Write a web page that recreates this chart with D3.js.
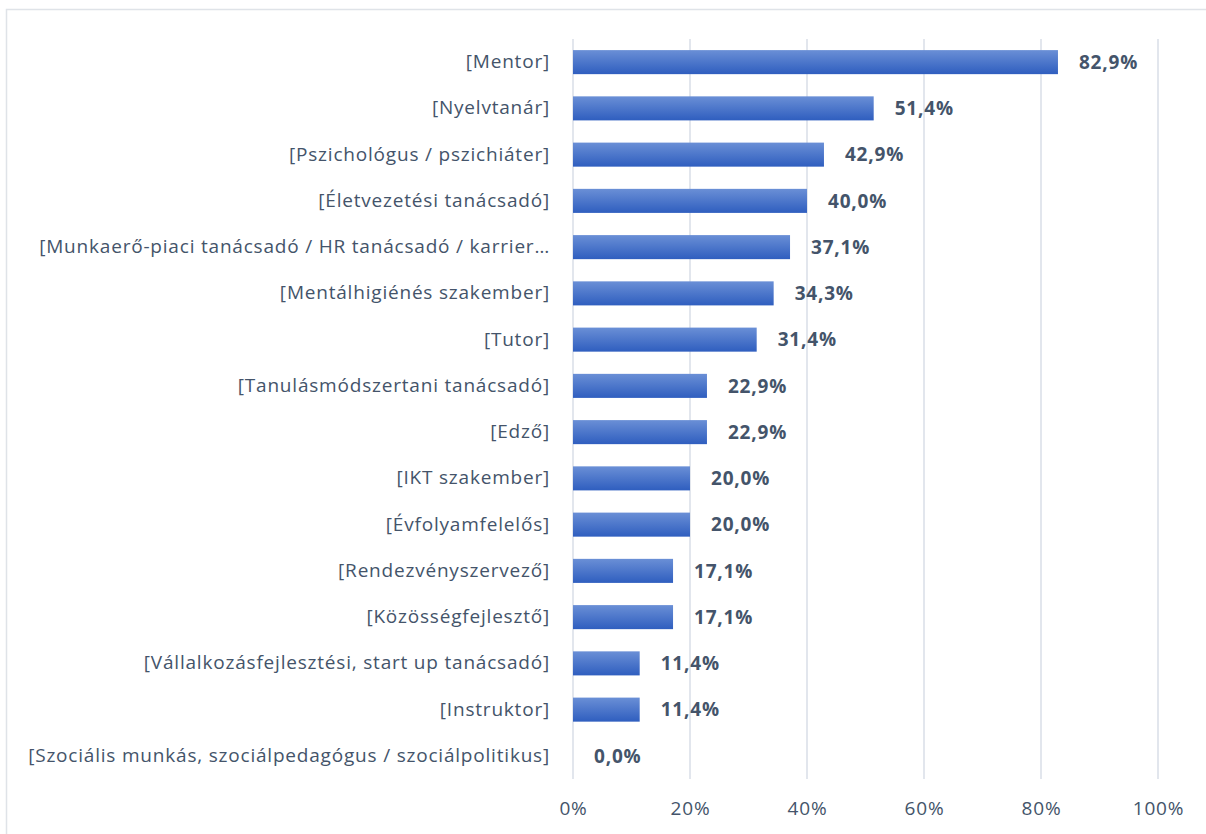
<!DOCTYPE html>
<html>
<head>
<meta charset="utf-8">
<script src="https://cdn.jsdelivr.net/npm/d3@7"></script>
<style>
  body { margin: 0; background: #fff; }
</style>
</head>
<body>
<div id="chart"></div>
<script>
var categories = [
    "[Mentor]",
    "[Nyelvtanár]",
    "[Pszichológus / pszichiáter]",
    "[Életvezetési tanácsadó]",
    "[Munkaerő-piaci tanácsadó / HR tanácsadó / karrier…",
    "[Mentálhigiénés szakember]",
    "[Tutor]",
    "[Tanulásmódszertani tanácsadó]",
    "[Edző]",
    "[IKT szakember]",
    "[Évfolyamfelelős]",
    "[Rendezvényszervező]",
    "[Közösségfejlesztő]",
    "[Vállalkozásfejlesztési, start up tanácsadó]",
    "[Instruktor]",
    "[Szociális munkás, szociálpedagógus / szociálpolitikus]"
];
var values = [82.9, 51.4, 42.9, 40.0, 37.1, 34.3, 31.4, 22.9, 22.9, 20.0, 20.0, 17.1, 17.1, 11.4, 11.4, 0.0];
var ticks = [0, 20, 40, 60, 80, 100];

var width = 1206;
var height = 834;
var marginLeft = 573;
var marginRight = 48;
var marginTop = 39;
var marginBottom = 55;

var chartWidth = width - marginLeft - marginRight;
var chartHeight = height - marginTop - marginBottom;

var textColor = "#44546a";
var font = "'Open Sans', sans-serif";
var fontSize = "19px";
var spacing = "0.8px";

var svg = d3.select("#chart").append("svg")
    .attr("width", width)
    .attr("height", height);

// gradient de las barras
var grad = svg.append("defs").append("linearGradient")
    .attr("id", "barGrad")
    .attr("x1", 0).attr("y1", 0).attr("x2", 0).attr("y2", 1);
grad.append("stop").attr("offset", "0%").attr("stop-color", "#6a8fd6");
grad.append("stop").attr("offset", "100%").attr("stop-color", "#2f5ebf");

// marco exterior
svg.append("rect")
    .attr("x", 6.5).attr("y", 9.5)
    .attr("width", width + 10).attr("height", height + 10)
    .attr("fill", "none")
    .attr("stroke", "#dfe3e8")
    .attr("stroke-width", 1.5);

var chart = svg.append("g")
    .attr("transform", "translate(" + marginLeft + ", " + marginTop + ")");

var xScale = d3.scaleLinear()
    .domain([0, 100])
    .range([0, chartWidth]);

var yScale = d3.scaleBand()
    .domain(categories)
    .range([0, chartHeight])
    .paddingInner(0.48)
    .paddingOuter(0.24);

// rejilla
chart.selectAll(".grid")
    .data(ticks)
    .enter()
    .append("line")
        .classed("grid", true)
        .attr("x1", function(d) { return xScale(d); })
        .attr("x2", function(d) { return xScale(d); })
        .attr("y1", 0)
        .attr("y2", chartHeight)
        .attr("stroke", "#d9dee7")
        .attr("stroke-width", 1.5);

// barras
chart.selectAll(".bars")
    .data(values)
    .enter()
    .append("rect")
        .classed("bars", true)
        .attr("x", xScale(0))
        .attr("y", function(d, i) { return yScale(categories[i]); })
        .attr("width", function(d) { return xScale(d) - xScale(0); })
        .attr("height", yScale.bandwidth())
        .attr("fill", "url(#barGrad)");

// etiquetas de valor
chart.selectAll(".labels")
    .data(values)
    .enter()
    .append("text")
        .classed("labels", true)
        .attr("x", function(d) { return xScale(d) + 21; })
        .attr("y", function(d, i) { return yScale(categories[i]) + yScale.bandwidth() / 2; })
        .attr("dy", "0.35em")
        .text(function(d) { return d.toFixed(1).replace(".", ",") + "%"; })
        .style("font-family", font)
        .style("font-size", fontSize)
        .style("letter-spacing", spacing)
        .style("font-weight", "bold")
        .attr("fill", textColor);

// EJES
var yAxis = d3.axisLeft(yScale).tickSize(0).tickPadding(23);
var yG = chart.append("g")
    .classed("yAxis", true)
    .call(yAxis);
yG.select(".domain").remove();
yG.selectAll("text")
    .style("font-family", font)
    .style("font-size", fontSize)
    .style("letter-spacing", spacing)
    .attr("fill", textColor);

var xAxis = d3.axisBottom(xScale)
    .tickValues(ticks)
    .tickSize(0)
    .tickPadding(23)
    .tickFormat(function(d) { return d + "%"; });
var xG = chart.append("g")
    .classed("xAxis", true)
    .attr("transform", "translate(0, " + chartHeight + ")")
    .call(xAxis);
xG.select(".domain").remove();
xG.selectAll("text")
    .style("font-family", font)
    .style("font-size", fontSize)
    .style("letter-spacing", spacing)
    .attr("fill", textColor);
</script>
</body>
</html>
